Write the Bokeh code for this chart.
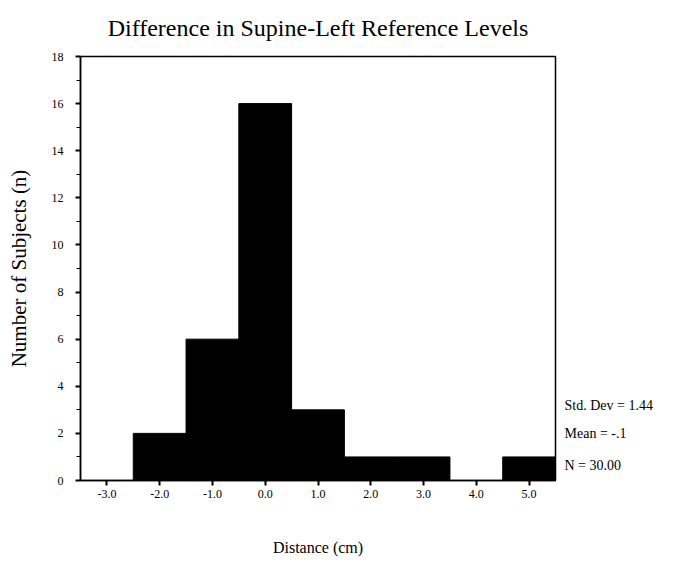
from bokeh.plotting import figure
from bokeh.models import FixedTicker, NumeralTickFormatter, Range1d, LinearAxis
from bokeh.embed import file_html
from bokeh.resources import INLINE

# Data
bin_centers = [-2.0, -1.0, 0.0, 1.0, 2.0, 3.0, 4.0, 5.0]
counts = [2, 6, 16, 3, 1, 1, 0, 1]
x_ticks = [-3.0, -2.0, -1.0, 0.0, 1.0, 2.0, 3.0, 4.0, 5.0]
y_ticks = [0, 2, 4, 6, 8, 10, 12, 14, 16, 18]
y_minor = [1, 3, 5, 7, 9, 11, 13, 15, 17]
stats = ["Std. Dev = 1.44", "Mean = -.1", "N = 30.00"]
stat_pos = [3.18, 2.0, 0.64]

FONT = "Liberation Serif"

p = figure(width=669, height=562, output_backend="svg", toolbar_location=None,
           x_range=Range1d(-3.5, 5.5), y_range=Range1d(0, 18),
           min_border_left=80, min_border_right=114, min_border_top=56, min_border_bottom=82)

p.title.text = "Difference in Supine-Left Reference Levels"
p.title.text_font = FONT
p.title.text_font_size = "24px"
p.title.text_font_style = "normal"
p.title.text_color = "black"
p.title.align = "center"
p.title.vertical_align = "top"
p.title.offset = -6
p.title.standoff = 28

lefts = [c - 0.5 for c in bin_centers]
rights = [c + 0.5 for c in bin_centers]
p.quad(left=lefts, right=rights, bottom=0, top=counts,
       fill_color="black", line_color="black")

p.xgrid.visible = False
p.ygrid.visible = False
p.outline_line_color = "black"
p.outline_line_width = 1.5

p.xaxis.ticker = FixedTicker(ticks=x_ticks)
p.xaxis.formatter = NumeralTickFormatter(format="0.0")
p.yaxis.ticker = FixedTicker(ticks=y_ticks, minor_ticks=y_minor)

for ax in (p.xaxis[0], p.yaxis[0]):
    ax.axis_line_color = "black"
    ax.axis_line_width = 1.5
    ax.major_tick_line_color = "black"
    ax.major_tick_line_width = 2
    ax.major_tick_out = 5
    ax.major_tick_in = 0
    ax.minor_tick_line_color = "black"
    ax.minor_tick_line_width = 1
    ax.minor_tick_out = 4
    ax.minor_tick_in = 0
    ax.major_label_text_font = FONT
    ax.major_label_text_font_size = "12px"
    ax.major_label_text_color = "black"
    ax.axis_label_text_font = FONT
    ax.axis_label_text_font_style = "normal"
    ax.axis_label_text_color = "black"

p.xaxis.major_label_standoff = 4
p.yaxis.major_label_standoff = 12
p.xaxis.axis_label = "Distance (cm)"
p.xaxis.axis_label_text_font_size = "16px"
p.xaxis.axis_label_standoff = 38
p.yaxis.axis_label = "Number of Subjects (n)"
p.yaxis.axis_label_text_font_size = "21px"
p.yaxis.axis_label_standoff = 18

# statistics box on the right, drawn as labels of a right-hand axis
stat_axis = LinearAxis(ticker=FixedTicker(ticks=stat_pos),
                       major_label_overrides={v: t for v, t in zip(stat_pos, stats)})
stat_axis.axis_line_color = None
stat_axis.major_tick_line_color = None
stat_axis.minor_tick_line_color = None
stat_axis.major_label_standoff = 3
stat_axis.major_label_text_font = FONT
stat_axis.major_label_text_font_size = "14px"
stat_axis.major_label_text_color = "black"
p.add_layout(stat_axis, "right")

open("out.html", "w").write(file_html(p, INLINE))
